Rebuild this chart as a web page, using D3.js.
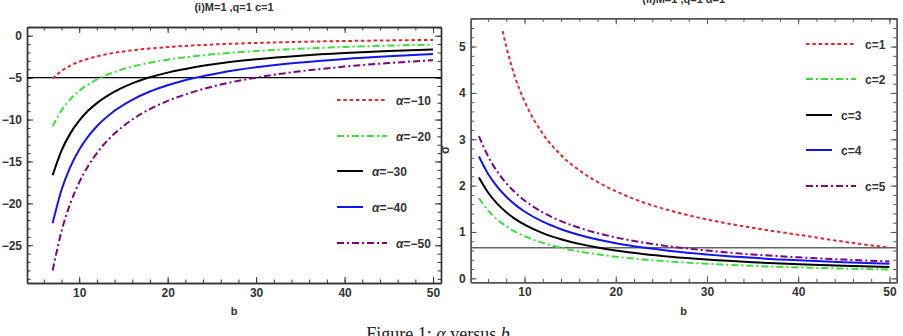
<!DOCTYPE html>
<html>
<head>
<meta charset="utf-8">
<script src="https://cdn.jsdelivr.net/npm/d3@7"></script>
<style>
  body { margin: 0; background: #fff; }
  svg text { font-family: "Liberation Sans", Arial, sans-serif; }
</style>
</head>
<body>
<div id="chart"></div>
<script>
// data
let bLeft = [7, 8, 9, 10, 11, 12, 14, 16, 18, 20, 23, 26, 30, 35, 40, 45, 50];
let alphaM10 = [-5.10, -4.20, -3.57, -3.10, -2.75, -2.46, -2.04, -1.74, -1.52, -1.35, -1.15, -1.01, -0.86, -0.73, -0.63, -0.56, -0.50];
let alphaM20 = [-10.81, -8.91, -7.57, -6.58, -5.82, -5.22, -4.33, -3.69, -3.22, -2.86, -2.44, -2.13, -1.83, -1.55, -1.34, -1.18, -1.06];
let alphaM30 = [-16.64, -13.70, -11.65, -10.13, -8.96, -8.04, -6.66, -5.68, -4.96, -4.40, -3.76, -3.28, -2.81, -2.38, -2.06, -1.82, -1.63];
let alphaM40 = [-22.36, -18.41, -15.65, -13.61, -12.04, -10.80, -8.95, -7.64, -6.66, -5.91, -5.05, -4.41, -3.77, -3.20, -2.77, -2.45, -2.19];
let alphaM50 = [-28.0, -23.33, -20.0, -17.5, -15.56, -14.0, -11.67, -10.0, -8.75, -7.78, -6.67, -5.83, -5.0, -4.24, -3.68, -3.26, -2.92];
let leftLabels = ["α=−10", "α=−20", "α=−30", "α=−40", "α=−50"];

let bRight = [5, 6, 7, 8, 9, 10, 12, 14, 16, 18, 20, 23, 26, 30, 35, 40, 45, 50];
let bRightC1 = [7.6, 8, 9, 10, 12, 14, 16, 18, 20, 23, 26, 30, 35, 40, 45, 50];
let sigmaC1 = [5.334, 5.00, 4.32, 3.82, 3.12, 2.66, 2.33, 2.08, 1.88, 1.64, 1.46, 1.27, 1.09, 0.94, 0.79, 0.66];
let sigmaC2 = [1.729, 1.465, 1.271, 1.122, 1.004, 0.909, 0.764, 0.659, 0.579, 0.517, 0.466, 0.407, 0.361, 0.314, 0.270, 0.236, 0.210, 0.190];
let sigmaC3 = [2.175, 1.851, 1.610, 1.425, 1.278, 1.159, 0.976, 0.844, 0.743, 0.663, 0.599, 0.523, 0.464, 0.404, 0.347, 0.305, 0.271, 0.245];
let sigmaC4 = [2.629, 2.257, 1.978, 1.760, 1.585, 1.442, 1.221, 1.059, 0.935, 0.837, 0.757, 0.663, 0.590, 0.514, 0.442, 0.389, 0.346, 0.313];
let sigmaC5 = [3.069, 2.635, 2.305, 2.051, 1.847, 1.680, 1.423, 1.234, 1.090, 0.975, 0.882, 0.773, 0.687, 0.599, 0.515, 0.453, 0.404, 0.364];
let rightLabels = ["c=1", "c=2", "c=3", "c=4", "c=5"];

let xMajor = [10, 20, 30, 40, 50];
let leftYMajor = [0, -5, -10, -15, -20, -25];
let rightYMajor = [0, 1, 2, 3, 4, 5];
let leftRef = -5;
let rightRef = 0.66;

let colors = ["#e3262b", "#38e038", "#000000", "#1414f0", "#800080"];
let dashes = ["3.5,2.8", "7,3,2,3", null, null, "7,3,2,3"];

let width = 903, height = 336;

let svg = d3.select("#chart").append("svg")
    .attr("width", width)
    .attr("height", height);

function panel(opt) {
    let x = d3.scaleLinear().domain(opt.xDomain).range([opt.left, opt.right]);
    let y = d3.scaleLinear().domain(opt.yDomain).range([opt.bottom, opt.top]);
    let g = svg.append("g");

    let clipId = "clip" + opt.id;
    svg.append("clipPath").attr("id", clipId)
        .append("rect")
        .attr("x", opt.left).attr("y", opt.top)
        .attr("width", opt.right - opt.left).attr("height", opt.bottom - opt.top);

    // minor ticks
    let minorX = d3.range(6, 51, 2);
    let minorY = opt.minorY;
    g.append("g").attr("transform", "translate(0," + opt.bottom + ")")
        .call(d3.axisBottom(x).tickValues(minorX).tickSize(-3.5).tickSizeOuter(0).tickFormat(""));
    g.append("g").attr("class", "lab").attr("transform", "translate(0," + opt.bottom + ")")
        .call(d3.axisBottom(x).tickValues(xMajor).tickSize(-6).tickSizeOuter(0).tickPadding(5).tickFormat(d3.format("d")));
    g.append("g").attr("transform", "translate(0," + opt.top + ")")
        .call(d3.axisTop(x).tickValues(minorX).tickSize(-3.5).tickSizeOuter(0).tickFormat(""));
    g.append("g").attr("transform", "translate(0," + opt.top + ")")
        .call(d3.axisTop(x).tickValues(xMajor).tickSize(-6).tickSizeOuter(0).tickFormat(""));

    g.append("g").attr("transform", "translate(" + opt.left + ",0)")
        .call(d3.axisLeft(y).tickValues(minorY).tickSize(-3.5).tickSizeOuter(0).tickFormat(""));
    g.append("g").attr("class", "lab").attr("transform", "translate(" + opt.left + ",0)")
        .call(d3.axisLeft(y).tickValues(opt.yMajor).tickSize(-6).tickSizeOuter(0).tickPadding(5).tickFormat(d3.format("d")));
    g.append("g").attr("transform", "translate(" + opt.right + ",0)")
        .call(d3.axisRight(y).tickValues(minorY).tickSize(-3.5).tickSizeOuter(0).tickFormat(""));
    g.append("g").attr("transform", "translate(" + opt.right + ",0)")
        .call(d3.axisRight(y).tickValues(opt.yMajor).tickSize(-6).tickSizeOuter(0).tickFormat(""));

    g.selectAll(".domain").attr("stroke", opt.frame).attr("stroke-width", 1.4);
    g.selectAll(".tick line").attr("stroke", opt.frame).attr("stroke-width", 1);
    g.selectAll(".lab text")
        .attr("fill", "#333")
        .style("font-size", "12px")
        .style("font-weight", "bold");

    // reference line
    g.append("line")
        .attr("x1", opt.left).attr("x2", opt.right)
        .attr("y1", y(opt.ref)).attr("y2", y(opt.ref))
        .attr("stroke", opt.refColor).attr("stroke-width", 1.4);

    let line = d3.line()
        .x(d => x(d[0])).y(d => y(d[1]))
        .curve(d3.curveMonotoneX);

    let curves = g.append("g").attr("clip-path", "url(#" + clipId + ")");
    opt.series.forEach((s, i) => {
        curves.append("path")
            .datum(s.xs.map((b, k) => [b, s.ys[k]]))
            .attr("d", line)
            .attr("fill", "none")
            .attr("stroke", colors[i])
            .attr("stroke-width", 2)
            .attr("stroke-dasharray", dashes[i]);
    });

    // legend
    opt.legendY.forEach((ly, i) => {
        let solid = dashes[i] === null;
        let x0 = opt.legendX;
        let x1 = solid ? x0 + 26 : x0 + 50;
        g.append("line")
            .attr("x1", x0).attr("x2", x1)
            .attr("y1", ly).attr("y2", ly)
            .attr("stroke", colors[i]).attr("stroke-width", 2)
            .attr("stroke-dasharray", dashes[i]);
        let t = g.append("text")
            .attr("x", x1 + 9).attr("y", ly + 4.5)
            .attr("fill", "#333")
            .style("font-size", "12px")
            .style("font-weight", "bold");
        let lab = opt.labels[i];
        if (lab[0] === "α") {
            t.append("tspan").text("α").style("font-style", "italic");
            t.append("tspan").text(lab.slice(1));
        } else {
            t.text(lab);
        }
    });

    // title and axis label
    svg.append("text")
        .attr("x", (opt.left + opt.right) / 2).attr("y", opt.titleY)
        .attr("text-anchor", "middle")
        .attr("fill", "#333")
        .style("font-size", "11px").style("font-weight", "bold")
        .text(opt.title);
    svg.append("text")
        .attr("x", (opt.left + opt.right) / 2).attr("y", 315)
        .attr("text-anchor", "middle")
        .attr("fill", "#333")
        .style("font-size", "11px").style("font-weight", "bold")
        .text("b");
}

panel({
    id: "L",
    xDomain: [4.1, 50.9], yDomain: [-29.5, 1.04],
    left: 27, right: 441, top: 27, bottom: 283,
    yMajor: leftYMajor, minorY: d3.range(-29, 2, 1),
    ref: leftRef, refColor: "#000",
    frame: "#333",
    series: [alphaM10, alphaM20, alphaM30, alphaM40, alphaM50].map(ys => ({xs: bLeft, ys: ys})),
    labels: leftLabels,
    legendX: 337, legendY: [100, 136, 171, 207, 243],
    title: "(i)M=1 ,q=1 c=1", titleY: 11
});

panel({
    id: "R",
    xDomain: [4.1, 50.8], yDomain: [-0.086, 5.61],
    left: 470.7, right: 896.7, top: 18.3, bottom: 282.3,
    yMajor: rightYMajor, minorY: d3.range(0, 5.61, 0.2),
    ref: rightRef, refColor: "#666",
    frame: "#555",
    series: [
        {xs: bRightC1, ys: sigmaC1},
        {xs: bRight, ys: sigmaC2},
        {xs: bRight, ys: sigmaC3},
        {xs: bRight, ys: sigmaC4},
        {xs: bRight, ys: sigmaC5}
    ],
    labels: rightLabels,
    legendX: 806, legendY: [44, 79, 115, 150, 186],
    title: "(ii)M=1 ,q=1 α=1", titleY: 3
});

// y label of right panel
svg.append("text")
    .attr("transform", "translate(449,150) rotate(-90)")
    .attr("text-anchor", "middle")
    .attr("fill", "#333")
    .style("font-size", "12px").style("font-weight", "bold")
    .text("σ");

// caption
svg.append("text")
    .attr("x", 438).attr("y", 340)
    .attr("text-anchor", "middle")
    .style("font-family", "'Liberation Serif', 'DejaVu Serif', serif")
    .style("font-size", "18px")
    .attr("fill", "#222")
    .html("Figure 1: <tspan font-style='italic'>α</tspan> versus <tspan font-style='italic'>b</tspan>");
</script>
</body>
</html>
